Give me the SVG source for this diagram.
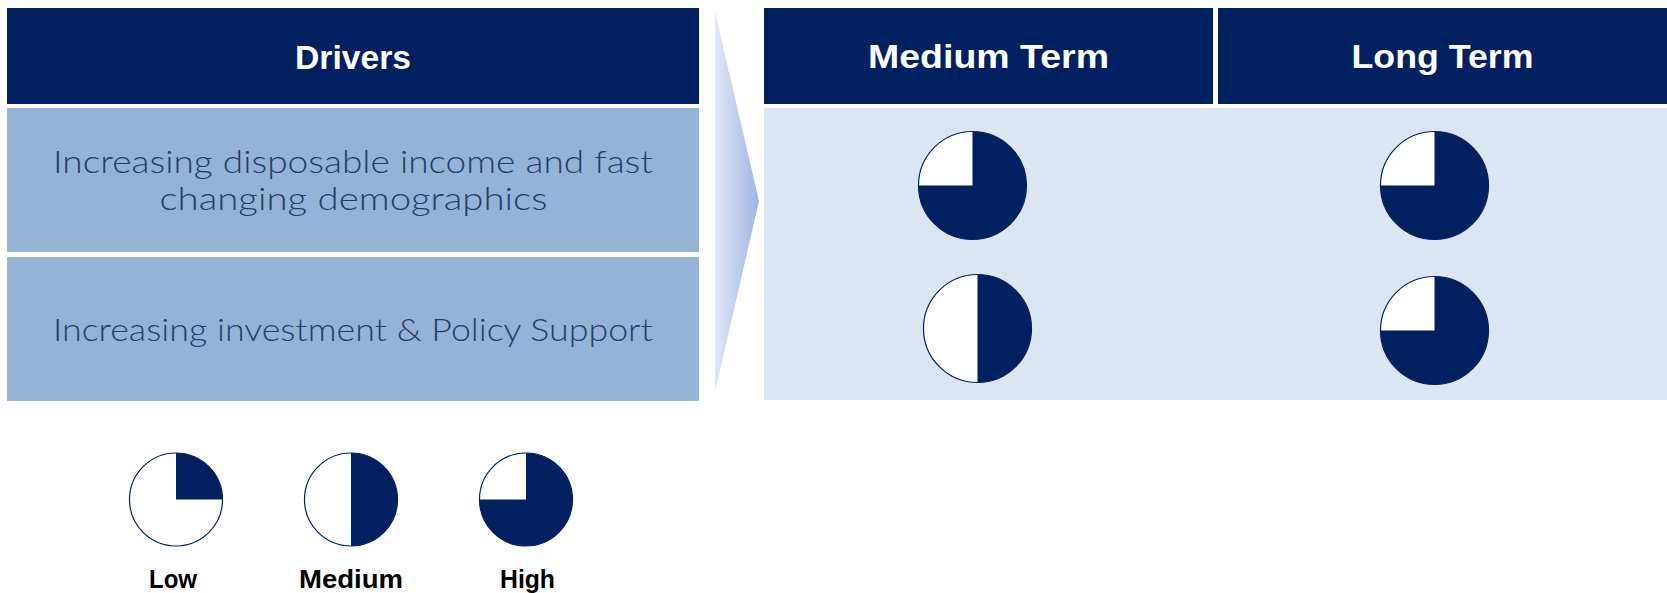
<svg xmlns="http://www.w3.org/2000/svg" width="1667" height="593" viewBox="0 0 1667 593">
  <defs>
    <linearGradient id="chevronFill" x1="0" y1="0" x2="1" y2="0">
      <stop offset="0" stop-color="#E1E7F5"/>
      <stop offset="1" stop-color="#9DB4E3"/>
    </linearGradient>
    <style>
      .hdr { fill: #002060; }
      .row { fill: #95B3D7; }
      .panel { fill: #DCE6F2; }
      .hdr-text { font-family: "Liberation Sans", Arial, sans-serif; font-weight: bold; font-size: 34px; fill: #FFFFFF; text-anchor: middle; }
      .body-text { font-family: Lato, "Liberation Sans", sans-serif; font-weight: 300; font-size: 31px; fill: #243F66; text-anchor: middle; }
      .legend-text { font-family: "Liberation Sans", Arial, sans-serif; font-weight: bold; font-size: 25px; fill: #000000; text-anchor: middle; }
      .pie-bg { fill: #FFFFFF; stroke: #002060; stroke-width: 1.2; }
      .pie-fg { fill: #002060; }
    </style>
  </defs>

  <rect width="1667" height="593" fill="#FFFFFF"/>

  <!-- left column: drivers -->
  <g id="drivers-header">
    <rect class="hdr" x="7" y="8" width="692" height="96"/>
    <text class="hdr-text" x="353" y="69" textLength="116" lengthAdjust="spacingAndGlyphs">Drivers</text>
  </g>
  <g id="driver-income">
    <rect class="row" x="7" y="108" width="692" height="144"/>
    <text class="body-text" x="353" y="173" textLength="600" lengthAdjust="spacingAndGlyphs">Increasing disposable income and fast</text>
    <text class="body-text" x="353.5" y="210" textLength="388" lengthAdjust="spacingAndGlyphs">changing demographics</text>
  </g>
  <g id="driver-investment">
    <rect class="row" x="7" y="257" width="692" height="144"/>
    <text class="body-text" x="353" y="341" textLength="600" lengthAdjust="spacingAndGlyphs">Increasing investment &amp; Policy Support</text>
  </g>

  <!-- chevron between the columns -->
  <g id="connectors">
    <polygon points="715,12 759,201 715,392" fill="url(#chevronFill)"/>
  </g>

  <!-- right columns: outlook -->
  <g id="outlook-panel">
    <rect class="panel" x="764" y="108" width="903" height="292"/>
  </g>
  <g id="medium-term-header">
    <rect class="hdr" x="764" y="8" width="449" height="96"/>
    <text class="hdr-text" x="988.5" y="68" textLength="241" lengthAdjust="spacingAndGlyphs">Medium Term</text>
  </g>
  <g id="long-term-header">
    <rect class="hdr" x="1218" y="8" width="449" height="96"/>
    <text class="hdr-text" x="1442.5" y="68" textLength="182" lengthAdjust="spacingAndGlyphs">Long Term</text>
  </g>

  <!-- ratings: income driver -->
  <g id="income-medium-term">
    <circle class="pie-bg" cx="972.5" cy="185.5" r="54"/>
    <path class="pie-fg" d="M972.5,185.5 L972.5,131.5 A54,54 0 1 1 918.5,185.5 Z"/>
  </g>
  <g id="income-long-term">
    <circle class="pie-bg" cx="1434.5" cy="185.5" r="54"/>
    <path class="pie-fg" d="M1434.5,185.5 L1434.5,131.5 A54,54 0 1 1 1380.5,185.5 Z"/>
  </g>

  <!-- ratings: investment driver -->
  <g id="investment-medium-term">
    <circle class="pie-bg" cx="977.5" cy="328.5" r="54"/>
    <path class="pie-fg" d="M977.5,274.5 A54,54 0 0 1 977.5,382.5 Z"/>
  </g>
  <g id="investment-long-term">
    <circle class="pie-bg" cx="1434.5" cy="330.5" r="54"/>
    <path class="pie-fg" d="M1434.5,330.5 L1434.5,276.5 A54,54 0 1 1 1380.5,330.5 Z"/>
  </g>

  <!-- legend -->
  <g id="legend-low">
    <circle class="pie-bg" cx="176" cy="499.5" r="46.5"/>
    <path class="pie-fg" d="M176,499.5 L176,453 A46.5,46.5 0 0 1 222.5,499.5 Z"/>
    <text class="legend-text" x="173" y="588" textLength="48" lengthAdjust="spacingAndGlyphs">Low</text>
  </g>
  <g id="legend-medium">
    <circle class="pie-bg" cx="351" cy="499.5" r="46.5"/>
    <path class="pie-fg" d="M351,453 A46.5,46.5 0 0 1 351,546 Z"/>
    <text class="legend-text" x="351" y="588" textLength="104" lengthAdjust="spacingAndGlyphs">Medium</text>
  </g>
  <g id="legend-high">
    <circle class="pie-bg" cx="526" cy="499.5" r="46.5"/>
    <path class="pie-fg" d="M526,499.5 L526,453 A46.5,46.5 0 1 1 479.5,499.5 Z"/>
    <text class="legend-text" x="527.5" y="588" textLength="55" lengthAdjust="spacingAndGlyphs">High</text>
  </g>
</svg>
